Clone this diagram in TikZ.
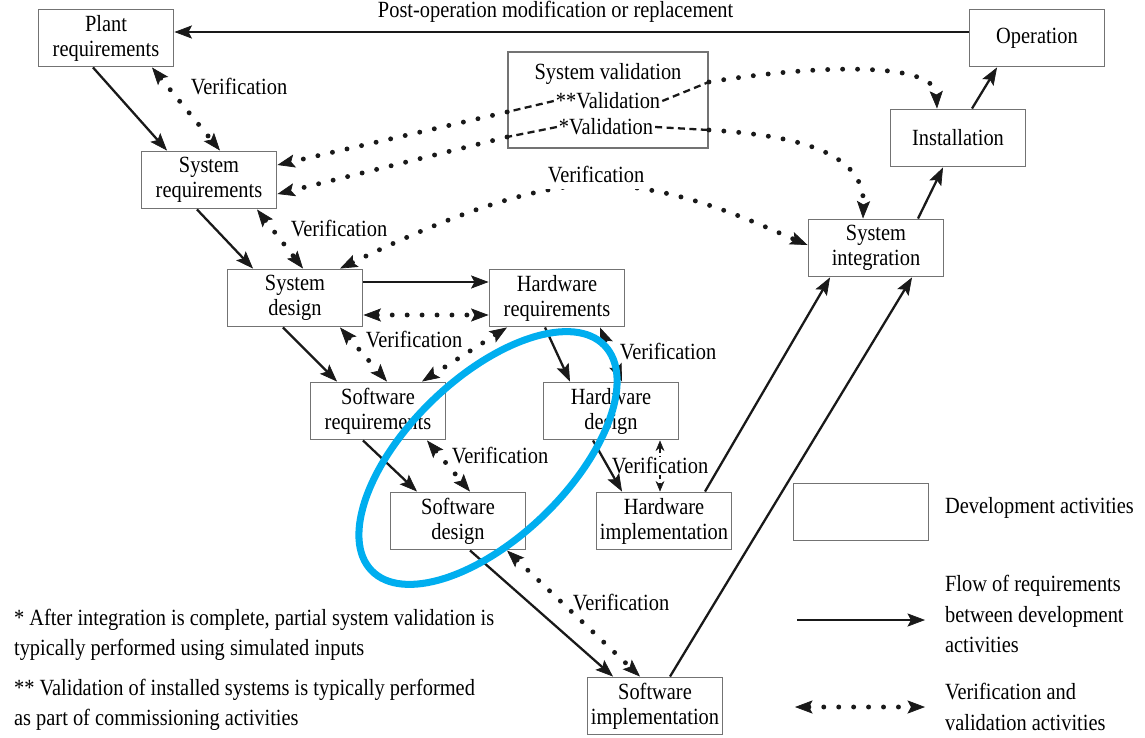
\documentclass[tikz,border=0pt]{standalone}
\usepackage{fontspec}
\setmainfont{Liberation Serif}[FakeStretch=0.88]
\usetikzlibrary{arrows.meta,calc}
\definecolor{markblue}{RGB}{0,174,239}
\tikzset{
activity/.style={draw=black!55, line width=1.1pt, minimum width=2.7cm, minimum height=1.14cm, align=center, inner sep=1pt},
flow/.style={draw=black!90, line width=1.3pt, -{Stealth[length=10pt,width=7.5pt,inset=2pt,line width=0.4pt]}},
verif/.style={draw=black!90, line width=2.8pt, line cap=round, dash pattern=on 0pt off 8.5pt,
  {Stealth[length=10pt,width=7.5pt,inset=2pt,line width=0.4pt]}-{Stealth[length=10pt,width=7.5pt,inset=2pt,line width=0.4pt]}},
valid/.style={draw=black!90, line width=2.8pt, line cap=round, dash pattern=on 0pt off 8.5pt,
  -{Stealth[length=10pt,width=7.5pt,inset=2pt,line width=0.4pt]}},
vdash/.style={draw=black!90, line width=1.3pt, dash pattern=on 4pt off 2.5pt},
hwverif/.style={draw=black!90, line width=1pt, dash pattern=on 3pt off 2pt,
  {Stealth[length=6pt,width=5pt,line width=0.3pt]}-{Stealth[length=6pt,width=5pt,line width=0.3pt]}},
lbl/.style={inner sep=1pt}
}

\begin{document}
\begin{tikzpicture}[x=0.02cm, y=-0.02cm, font=\fontsize{13.2pt}{14.2pt}\selectfont]
\useasboundingbox (0,0) rectangle (1145,737);

\node[activity] (plantreq) at (106,38) {Plant\\requirements};
\node[activity] (operation) at (1037,38) {Operation};
\node[activity, minimum width=4cm, minimum height=1.92cm] (sysval) at (608,100) {};
\node[lbl] (svtitle) at (608,74) {System validation};
\node[lbl] (val2) at (608,101) {**Validation};
\node[lbl] (val1) at (606,127) {*Validation};
\node[activity] (install) at (958,138) {Installation};
\node[activity] (sysreq) at (209,180) {System\\requirements};
\node[activity] (sysint) at (876,248) {System\\integration};
\node[activity] (sysdes) at (295,298) {System\\design};
\node[activity] (hwreq) at (557,298) {Hardware\\requirements};
\node[activity] (swreq) at (378,411) {Software\\requirements};
\node[activity] (hwdes) at (611,411) {Hardware\\design};
\node[activity] (swdes) at (458,521) {Software\\design};
\node[activity] (hwimp) at (664,521) {Hardware\\implementation};
\node[activity] (swimp) at (655,706) {Software\\implementation};

% verification between hardware design and implementation
\draw[hwverif] ($(hwdes.south)+(49,0)$) -- node[lbl, inner sep=0.5pt, fill=white] {Verification} ($(hwimp.north)+(-4,0)$);

% flow of requirements
\draw[flow] ($(operation.west)+(0,-6)$) -- node[pos=0.52, above=4pt, lbl] {Post-operation modification or replacement} ($(plantreq.east)+(0,-6)$);
\draw[flow] ($(plantreq.south)+(-13,0)$) -- ($(sysreq.north)+(-42,0)$);
\draw[flow] ($(sysreq.south)+(-12,0)$) -- ($(sysdes.north)+(-42,0)$);
\draw[flow] ($(sysdes.south)+(-12,0)$) -- ($(swreq.north)+(-41,0)$);
\draw[flow] ($(sysdes.east)+(0,-16)$) -- ($(hwreq.west)+(0,-16)$);
\draw[flow] ($(hwreq.south)+(-12,0)$) -- ($(hwdes.north)+(-41,0)$);
\draw[flow] ($(swreq.south)+(-15,0)$) -- ($(swdes.north)+(-41,0)$);
\draw[flow] ($(hwdes.south)+(-18,0)$) -- ($(hwimp.north)+(-42,0)$);
\draw[flow] ($(swdes.south)+(12,0)$) -- ($(swimp.north)+(-42,0)$);
\draw[flow] ($(hwimp.north)+(41,0)$) -- ($(sysint.south)+(-46,0)$);
\draw[flow] ($(swimp.north)+(15,0)$) -- ($(sysint.south)+(36,0)$);
\draw[flow] ($(sysint.north)+(42,0)$) -- ($(install.south)+(-15,0)$);
\draw[flow] ($(install.north)+(14,0)$) -- ($(operation.south)+(-40,0)$);

% verification
\draw[verif] ($(plantreq.south)+(46,0)$) -- ($(sysreq.north)+(11,0)$);
\node[lbl] at (239,87) {Verification};
\draw[verif] ($(sysreq.south)+(48,0)$) -- ($(sysdes.north)+(8,0)$);
\node[lbl] at (339,229) {Verification};
\draw[verif] ($(sysdes.east)+(0,17)$) -- ($(hwreq.west)+(0,17)$);
\draw[verif] ($(sysdes.south)+(45,0)$) -- ($(swreq.north)+(9,0)$);
\draw[verif] ($(hwreq.south)+(-50,0)$) -- ($(swreq.north)+(44,0)$);
\node[lbl] at (414,340) {Verification};
\draw[verif] ($(hwreq.south)+(43,0)$) -- ($(hwdes.north)+(11,0)$);
\node[lbl] at (668,352) {Verification};
\draw[verif] ($(swreq.south)+(49,0)$) -- ($(swdes.north)+(12,0)$);
\node[lbl] at (500,456) {Verification};
\draw[verif] ($(swdes.south)+(49,0)$) -- ($(swimp.north)+(-15,0)$);
\node[lbl] at (621,602) {Verification};
\draw[verif] ($(sysdes.north)+(45,0)$) .. controls (420,230) and (520,185) .. (596,185)
  .. controls (680,185) and (760,225) .. ($(sysint.west)+(0,-3)$);
\node[lbl, inner sep=3pt, fill=white] at (596,175) {Verification};

% validation
\draw[vdash] (val2.west) -- ($(sysval.west)+(0,12)$);
\draw[valid] ($(sysval.west)+(0,12)$) -- ($(sysreq.east)+(0,-15)$);
\draw[vdash] (val1.west) -- ($(sysval.west)+(0,37)$);
\draw[valid] ($(sysval.west)+(0,37)$) -- ($(sysreq.east)+(0,14)$);
\draw[vdash] (val2.east) -- ($(sysval.east)+(0,-18)$);
\draw[valid] ($(sysval.east)+(0,-18)$) .. controls (820,64) and (935,62) .. ($(install.north)+(-21,0)$);
\draw[vdash] (val1.east) -- ($(sysval.east)+(0,30)$);
\draw[valid] ($(sysval.east)+(0,30)$) .. controls (790,135) and (865,150) .. ($(sysint.north)+(-13,0)$);

% notes
\node[lbl, anchor=west, align=left, font=\fontsize{13.2pt}{17pt}\selectfont] (note1) at (12,635)
  {* After integration is complete, partial system validation is\\typically performed using simulated inputs};
\node[lbl, anchor=west, align=left, font=\fontsize{13.2pt}{17pt}\selectfont] (note2) at (12,705)
  {** Validation of installed systems is typically performed\\as part of commissioning activities};

% legend
\node[activity] (legbox) at (861,512) {};
\node[lbl, anchor=west] (legact) at (943,508) {Development activities};
\coordinate (flowa) at (797,620);
\coordinate (flowb) at (925,620);
\draw[flow] (flowa) -- (flowb);
\node[lbl, anchor=west, align=left, font=\fontsize{13.2pt}{17.6pt}\selectfont] (legflow) at (943,614)
  {Flow of requirements\\between development\\activities};
\coordinate (verifa) at (795,707);
\coordinate (verifb) at (925,707);
\draw[verif] (verifa) -- (verifb);
\node[lbl, anchor=west, align=left, font=\fontsize{13.2pt}{17.6pt}\selectfont] (legverif) at (943,707)
  {Verification and\\validation activities};

% highlight
\draw[markblue, line width=4pt, rotate around={44:(488,458)}] (488,458) ellipse [x radius=3.24cm, y radius=1.6cm];
\end{tikzpicture}
\end{document}
